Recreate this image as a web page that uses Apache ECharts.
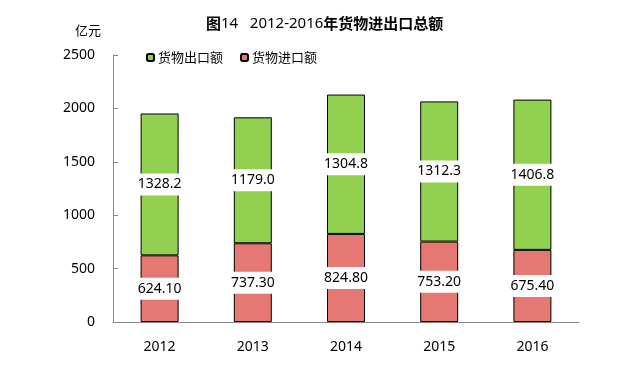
<!DOCTYPE html>
<html><head><meta charset="utf-8">
<script src="https://cdn.jsdelivr.net/npm/echarts@6/dist/echarts.min.js"></script>
<style>html,body{margin:0;padding:0;background:#fff}#c{width:640px;height:366px}</style>
</head><body><div id="c"></div>
<script>
const years = ['2012','2013','2014','2015','2016'];
const exportVals = [1328.2, 1179.0, 1304.8, 1312.3, 1406.8];
const importVals = [624.10, 737.30, 824.80, 753.20, 675.40];
const yTicks = [0, 500, 1000, 1500, 2000, 2500];

const FONT = '"Noto Sans","Noto Sans CJK SC",sans-serif';
const chart = echarts.init(document.getElementById('c'));
const labelStyle = (digits) => ({
  show: true, position: 'inside', color: '#000', fontSize: 14, fontFamily: FONT,
  backgroundColor: '#fff', padding: [4, 3, 4, 3],
  formatter: p => p.value.toFixed(digits)
});
chart.setOption({
  animation: false,
  textStyle: { fontFamily: FONT },
  title: {
    left: 201, top: 11,
    text: '{b|图}{n|14   2012-2016}{b|年货物进出口总额}',
    textStyle: {
      rich: {
        b: { fontSize: 15, fontWeight: 'bold', color: '#000', fontFamily: '"Noto Sans CJK SC",sans-serif' },
        n: { fontSize: 15, fontWeight: 'normal', color: '#000', fontFamily: FONT }
      }
    }
  },
  legend: {
    left: 146, top: 51, padding: 0, itemWidth: 7, itemHeight: 7, itemGap: 17,
    data: ['货物出口额', '货物进口额'],
    textStyle: { fontSize: 13, color: '#000', padding: [0, 0, 0, -1], fontFamily: '"Noto Sans CJK SC",sans-serif' }
  },
  grid: { left: 113, right: 61, top: 55, bottom: 44 },
  xAxis: {
    type: 'category', data: years,
    axisLine: { lineStyle: { color: '#888' } },
    axisTick: { inside: true, length: 5, lineStyle: { color: '#888' } },
    axisLabel: { color: '#000', fontSize: 14, margin: 18, fontFamily: FONT }
  },
  yAxis: {
    type: 'value', min: yTicks[0], max: yTicks[yTicks.length - 1], interval: 500,
    name: '亿元', nameLocation: 'end', nameGap: 18,
    nameTextStyle: { color: '#000', fontSize: 13, align: 'right', padding: [0, 12, 0, 0], fontFamily: '"Noto Sans CJK SC",sans-serif' },
    axisLine: { show: true, lineStyle: { color: '#888' } },
    axisTick: { show: true, inside: true, length: 5, lineStyle: { color: '#888' } },
    splitLine: { show: false },
    axisLabel: { color: '#000', fontSize: 14, margin: 18, fontFamily: FONT, formatter: v => String(v) }
  },
  series: [
    {
      name: '货物进口额', type: 'bar', stack: 'total', barWidth: 38, data: importVals,
      itemStyle: { color: '#E67873', borderColor: '#000', borderWidth: 1 },
      label: labelStyle(2)
    },
    {
      name: '货物出口额', type: 'bar', stack: 'total', barWidth: 38, data: exportVals,
      itemStyle: { color: '#92D050', borderColor: '#000', borderWidth: 1 },
      label: labelStyle(1)
    }
  ]
});
</script></body></html>
